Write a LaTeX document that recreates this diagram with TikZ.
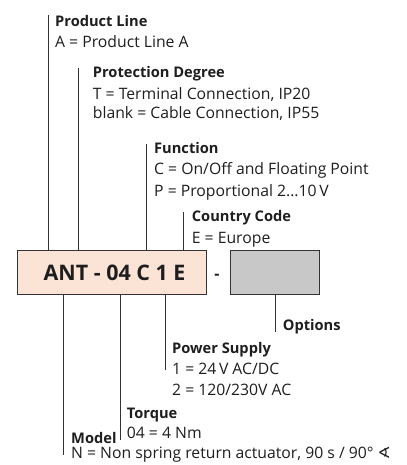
\documentclass[tikz,border=0pt]{standalone}
\usepackage{fontspec}
\setmainfont{Open Sans}
\newfontfamily\symfont{DejaVu Sans}
\definecolor{boxPink}{HTML}{FBE3D6}
\definecolor{boxGrey}{HTML}{C8C8C8}
\definecolor{lineGrey}{HTML}{333333}
\definecolor{textDark}{HTML}{1E1E1E}

\begin{document}
\begin{tikzpicture}[
        x=1bp, y=-1bp,
        every node/.style={font=\fontsize{15.8}{18}\selectfont, text=textDark, inner sep=0pt},
        legendText/.style={anchor=base west},
        headText/.style={anchor=base west, font=\fontsize{14.7}{18}\selectfont\bfseries},
        codeBox/.style={draw=lineGrey, line width=1.1pt, minimum height=44bp, anchor=north west},
        leadLine/.style={lineGrey, line width=0.9pt}
    ]
        \useasboundingbox (0,0) rectangle (406,465);

        % order code box and the empty options box
        \node[codeBox, fill=boxPink, minimum width=189bp] (code) at (17,250) {};
        \node[font=\fontsize{21.5}{24}\selectfont\bfseries, anchor=base] (codeText) at (114.5,280) {ANT - 04 C 1 E};
        \node[font=\fontsize{16}{18}\selectfont\bfseries, anchor=base] (dash) at (217,279) {-};
        \node[codeBox, fill=boxGrey, minimum width=89bp] (opt) at (230,250) {};

        % keys above the box
        \node[headText] (prodLine) at (55,27) {Product Line};
        \node[legendText] (prodVal) at (55,48) {A = Product Line A};
        \node[headText] (protDeg) at (92.7,78) {Protection Degree};
        \node[legendText] (protValT) at (92.7,99.5) {T = Terminal Connection, IP20};
        \node[legendText] (protValB) at (92.7,119) {blank = Cable Connection, IP55};
        \node[headText] (funcText) at (154,154) {Function};
        \node[legendText] (funcValC) at (154,175) {C = On/Off and Floating Point};
        \node[legendText] (funcValP) at (154,196.5) {P = Proportional 2...10\,V};
        \node[headText] (country) at (191.7,222) {Country Code};
        \node[legendText] (countryVal) at (191.7,243) {E = Europe};

        % keys below the box
        \node[headText] (options) at (282.7,330) {Options};
        \node[headText] (power) at (172,353) {Power Supply};
        \node[legendText] (powerVal1) at (172,374) {1 = 24\,V AC/DC};
        \node[legendText] (powerVal2) at (172,395.5) {2 = 120/230V AC};
        \node[headText] (torque) at (126.7,418) {Torque};
        \node[legendText] (torqueVal) at (126.7,438) {04 = 4 Nm};
        \node[headText] (model) at (71,443) {Model};
        \node[legendText] (modelVal) at (71,458) {N = Non spring return actuator, 90 s / 90° {\symfont ∢}};

        % lead lines, box edge to label
        \coordinate (prodEnd) at (48.7,15);
        \coordinate (protEnd) at (78.7,68);
        \coordinate (funcEnd) at (146.7,144);
        \coordinate (countryEnd) at (183.7,212);
        \coordinate (optEnd) at (275,332);
        \coordinate (powerEnd) at (165.3,370);
        \coordinate (torqueEnd) at (120,440);
        \coordinate (modelEnd) at (63.3,455);

        \foreach \e in {prodEnd, protEnd, funcEnd, countryEnd}
            \draw[leadLine] (code.north -| \e) -- (\e);
        \foreach \e in {powerEnd, torqueEnd, modelEnd}
            \draw[leadLine] (code.south -| \e) -- (\e);
        \draw[leadLine] (opt.south -| optEnd) -- (optEnd);

    \end{tikzpicture}
\end{document}
